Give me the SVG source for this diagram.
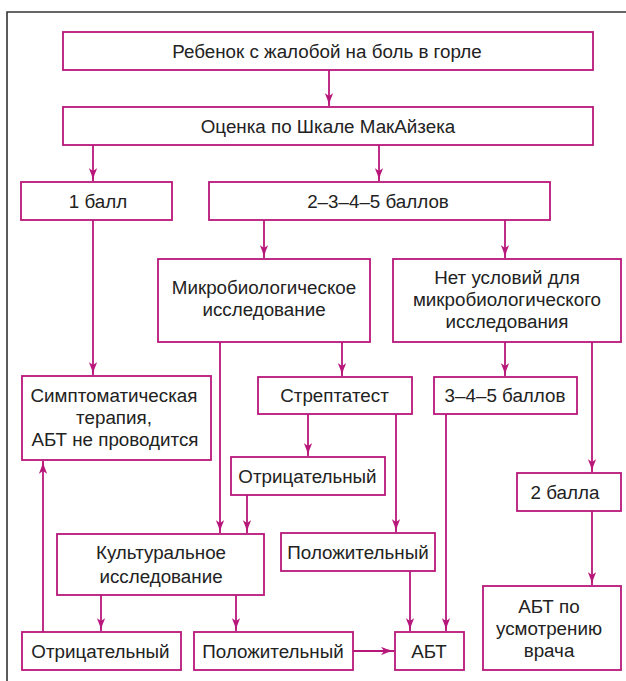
<svg xmlns="http://www.w3.org/2000/svg" width="626" height="681" viewBox="0 0 626 681">
<style>
.box{fill:#fff;stroke:#b8177a;stroke-width:1.8}
.t{font-family:"Liberation Sans",Arial,sans-serif;font-size:18.8px;fill:#222;text-anchor:middle}
.c{fill:none;stroke:#b8177a;stroke-width:1.8}
</style>
<defs>
<marker id="ah" viewBox="0 0 13 8.5" refX="13" refY="4.25" markerWidth="13" markerHeight="8.5" markerUnits="userSpaceOnUse" orient="auto">
<path d="M0,0 Q6,3 13,4.25 Q6,5.5 0,8.5 L3,4.25 Z" fill="#b8177a"/>
</marker>
</defs>
<rect width="626" height="681" fill="#fff"/>
<polyline points="7,681 7,12 626,12" fill="none" stroke="#333" stroke-width="1.6"/>

<g id="connectors">
<line class="c" x1="329" y1="70" x2="329" y2="106" marker-end="url(#ah)"/>
<line class="c" x1="93" y1="145" x2="93" y2="181" marker-end="url(#ah)"/>
<line class="c" x1="379" y1="145" x2="379" y2="181" marker-end="url(#ah)"/>
<line class="c" x1="93" y1="220" x2="93" y2="375" marker-end="url(#ah)"/>
<line class="c" x1="264" y1="220" x2="264" y2="258" marker-end="url(#ah)"/>
<line class="c" x1="505" y1="220" x2="505" y2="258" marker-end="url(#ah)"/>
<line class="c" x1="342" y1="342" x2="342" y2="376" marker-end="url(#ah)"/>
<line class="c" x1="220" y1="342" x2="220" y2="533" marker-end="url(#ah)"/>
<line class="c" x1="505" y1="342" x2="505" y2="376" marker-end="url(#ah)"/>
<line class="c" x1="592" y1="342" x2="592" y2="472" marker-end="url(#ah)"/>
<line class="c" x1="308" y1="414" x2="308" y2="456" marker-end="url(#ah)"/>
<line class="c" x1="396" y1="414" x2="396" y2="532" marker-end="url(#ah)"/>
<line class="c" x1="446" y1="414" x2="446" y2="631" marker-end="url(#ah)"/>
<line class="c" x1="247" y1="495" x2="247" y2="533" marker-end="url(#ah)"/>
<line class="c" x1="410" y1="571" x2="410" y2="631" marker-end="url(#ah)"/>
<line class="c" x1="592" y1="511" x2="592" y2="585" marker-end="url(#ah)"/>
<line class="c" x1="101" y1="595" x2="101" y2="631" marker-end="url(#ah)"/>
<line class="c" x1="236" y1="595" x2="236" y2="631" marker-end="url(#ah)"/>
<line class="c" x1="43" y1="632" x2="43" y2="461" marker-end="url(#ah)"/>
<line class="c" x1="353" y1="651" x2="394" y2="651" marker-end="url(#ah)"/>
</g>

<g id="n1"><rect class="box" x="63" y="32" width="530" height="38"/><text class="t" x="327" y="57.5">Ребенок с жалобой на боль в горле</text></g>
<g id="n2"><rect class="box" x="63" y="107" width="530" height="38"/><text class="t" x="328" y="132.5">Оценка по Шкале МакАйзека</text></g>
<g id="n3"><rect class="box" x="21" y="182" width="151" height="38"/><text class="t" x="98" y="207.5">1 балл</text></g>
<g id="n4"><rect class="box" x="209" y="182" width="341" height="38"/><text class="t" x="378" y="207.5">2–3–4–5 баллов</text></g>
<g id="n5"><rect class="box" x="158" y="259" width="212" height="83"/><text class="t" x="264" y="293.5">Микробиологическое</text><text class="t" x="264" y="315.5">исследование</text></g>
<g id="n6"><rect class="box" x="393" y="259" width="228" height="83"/><text class="t" x="507" y="284">Нет условий для</text><text class="t" x="507" y="306">микробиологического</text><text class="t" x="507" y="328">исследования</text></g>
<g id="n7"><rect class="box" x="22" y="376" width="189" height="84"/><text class="t" x="114" y="401.5">Симптоматическая</text><text class="t" x="114" y="424">терапия,</text><text class="t" x="115" y="446">АБТ не проводится</text></g>
<g id="n8"><rect class="box" x="258" y="377" width="154" height="37"/><text class="t" x="334.5" y="401.5">Стрептатест</text></g>
<g id="n9"><rect class="box" x="434" y="377" width="143" height="37"/><text class="t" x="505" y="401.5">3–4–5 баллов</text></g>
<g id="n10"><rect class="box" x="231" y="457" width="154" height="38"/><text class="t" x="307.5" y="483">Отрицательный</text></g>
<g id="n11"><rect class="box" x="517" y="473" width="104" height="38"/><text class="t" x="565" y="498.5">2 балла</text></g>
<g id="n12"><rect class="box" x="57" y="534" width="207" height="61"/><text class="t" x="161" y="559">Культуральное</text><text class="t" x="161" y="582.5">исследование</text></g>
<g id="n13"><rect class="box" x="281" y="533" width="154" height="38"/><text class="t" x="358" y="558.5">Положительный</text></g>
<g id="n14"><rect class="box" x="483" y="586" width="138" height="84"/><text class="t" x="549" y="613">АБТ по</text><text class="t" x="549" y="635">усмотрению</text><text class="t" x="549" y="657">врача</text></g>
<g id="n15"><rect class="box" x="22" y="632" width="159" height="38"/><text class="t" x="100.5" y="657.5">Отрицательный</text></g>
<g id="n16"><rect class="box" x="194" y="632" width="159" height="38"/><text class="t" x="273" y="657.5">Положительный</text></g>
<g id="n17"><rect class="box" x="395" y="632" width="69" height="38"/><text class="t" x="429" y="657.5">АБТ</text></g>
</svg>
